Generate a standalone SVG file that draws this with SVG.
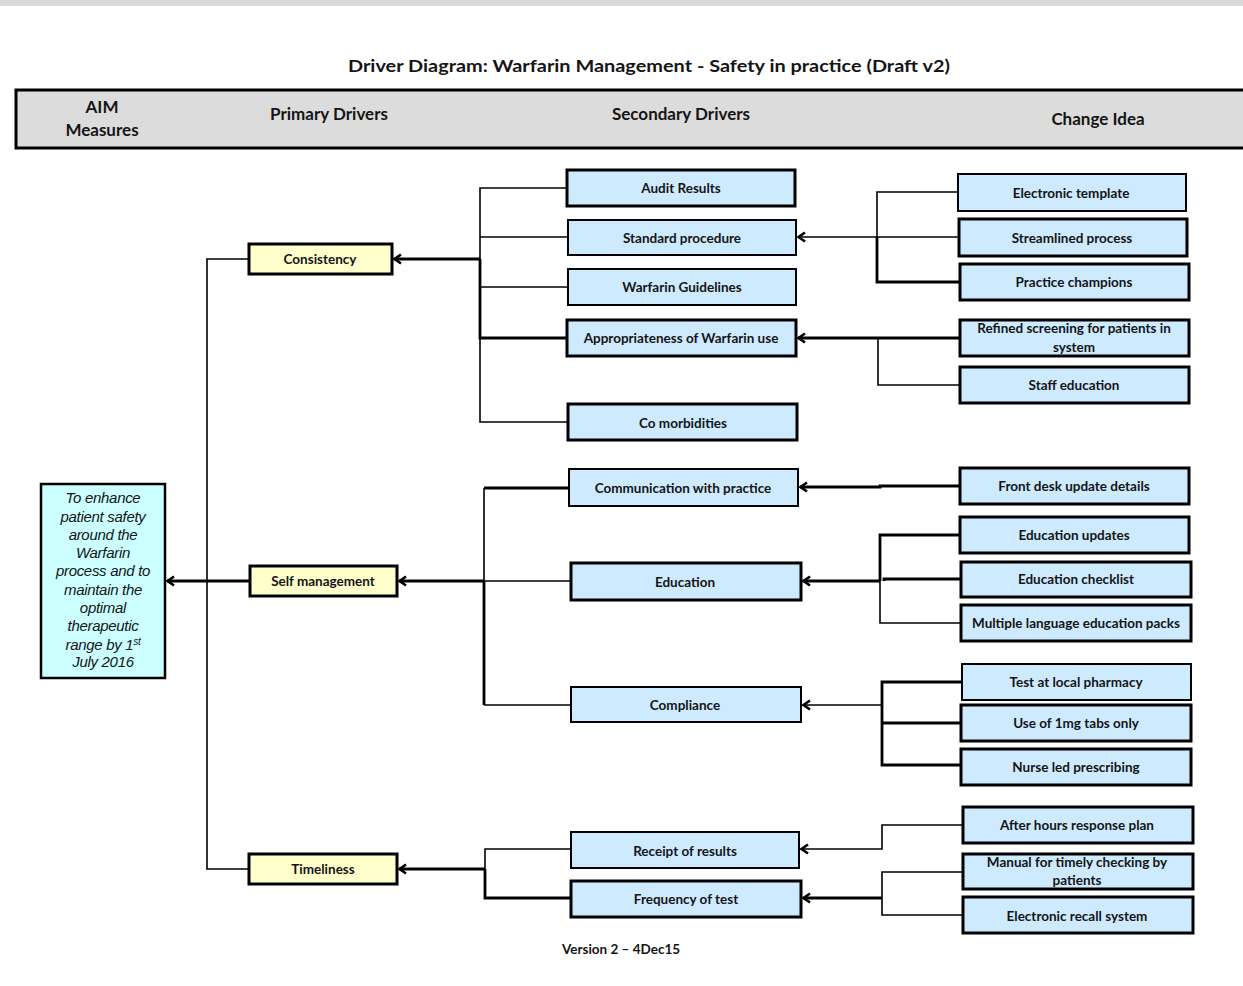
<svg xmlns="http://www.w3.org/2000/svg" width="1243" height="986" viewBox="0 0 1243 986">
<defs>
<marker id="arr" markerUnits="userSpaceOnUse" markerWidth="14" markerHeight="14" viewBox="0 0 14 14" refX="12" refY="7" orient="auto">
<path d="M5,2.5 L11.5,7 L5,11.5" fill="none" stroke="#000" stroke-width="2.6"/>
</marker>
</defs>
<style>
text{font-family:Lato,"Liberation Sans",sans-serif;font-weight:bold;fill:#151515;text-anchor:middle}
.hd{font-size:17px}
.t{font-size:13.5px}
.aim{font-family:"Liberation Sans",Arial,sans-serif;font-style:italic;font-weight:normal;font-size:15px;letter-spacing:-0.3px}
.sd{fill:#cdeaff;stroke:#000;stroke-width:2}
.sdt{fill:#cdeaff;stroke:#000;stroke-width:3}
.pd{fill:#ffffcc;stroke:#000;stroke-width:3}
.c{fill:none;stroke:#000;stroke-width:1.6}
.ck{fill:none;stroke:#000;stroke-width:2.8}
</style>
<rect x="0" y="0" width="1243" height="6" fill="#d9d9d9"/>
<text class="hd" x="649" y="72" font-size="18" textLength="602" lengthAdjust="spacingAndGlyphs">Driver Diagram: Warfarin Management - Safety in practice (Draft v2)</text>
<g id="header">
<rect x="16" y="90" width="1240" height="58" fill="#dcdcdc" stroke="#000" stroke-width="3"/>
<text class="hd" x="102" y="113">AIM</text>
<text class="hd" x="102" y="136">Measures</text>
<text class="hd" x="329" y="120">Primary Drivers</text>
<text class="hd" x="681" y="120">Secondary Drivers</text>
<text class="hd" x="1098" y="125">Change Idea</text>
</g>
<g id="connectors">
<path class="c" d="M249,259 H207 V869 H249"/>
<path class="ck" d="M250,581 H167" marker-end="url(#arr)"/>
<path class="ck" d="M480,259 H394" marker-end="url(#arr)"/>
<path class="c" d="M567,188 H480 V422 H568 M480,237 H568 M480,287 H568"/>
<path class="ck" d="M480,259 V338 H567"/>
<path class="c" d="M877,237 H798" marker-end="url(#arr)"/>
<path class="c" d="M958,192 H877 V237 H958"/>
<path class="ck" d="M877,237 V282 H959"/>
<path class="ck" d="M959,338 H798" marker-end="url(#arr)"/>
<path class="c" d="M878,338 V385 H959"/>
<path class="ck" d="M484,581 H399" marker-end="url(#arr)"/>
<path class="c" d="M484,488 V581 H571"/>
<path class="ck" d="M569,488 H484"/>
<path class="ck" d="M484,581 V705"/>
<path class="c" d="M484,705 H571"/>
<path class="ck" d="M960,486 H880 V487 H800" marker-end="url(#arr)"/>
<path class="ck" d="M880,581 H803" marker-end="url(#arr)"/>
<path class="ck" d="M960,535 H880 V581"/>
<path class="ck" d="M961,579 H884 V581"/>
<path class="c" d="M880,581 V623 H961"/>
<path class="c" d="M882,705 H803" marker-end="url(#arr)"/>
<path class="ck" d="M962,682 H882 V765 H961 M882,723 H961"/>
<path class="ck" d="M485,869 H399" marker-end="url(#arr)"/>
<path class="c" d="M571,849 H485 V869"/>
<path class="ck" d="M485,869 V898 H571"/>
<path class="c" d="M963,825 H882 V849 H801" marker-end="url(#arr)"/>
<path class="ck" d="M882,898 H803" marker-end="url(#arr)"/>
<path class="c" d="M963,872 H882 V915 H963"/>
</g>
<g id="aim">
<rect x="41" y="484" width="124" height="194" fill="#ccffff" stroke="#000" stroke-width="2.5"/>
<text class="aim" x="103" y="503">To enhance</text>
<text class="aim" x="103" y="522">patient safety</text>
<text class="aim" x="103" y="540">around the</text>
<text class="aim" x="103" y="558">Warfarin</text>
<text class="aim" x="103" y="576">process and to</text>
<text class="aim" x="103" y="595">maintain the</text>
<text class="aim" x="103" y="613">optimal</text>
<text class="aim" x="103" y="631">therapeutic</text>
<text class="aim" x="103" y="650">range by 1<tspan font-size="10" dy="-5">st</tspan></text>
<text class="aim" x="103" y="667">July 2016</text>
</g>
<g id="consistency"><rect class="pd" x="249" y="244" width="143" height="30"/><text class="t" x="320" y="264">Consistency</text></g>
<g id="self-management"><rect class="pd" x="250" y="566" width="147" height="30"/><text class="t" x="323" y="586">Self management</text></g>
<g id="timeliness"><rect class="pd" x="249" y="854" width="148" height="30"/><text class="t" x="323" y="874">Timeliness</text></g>

<g id="audit-results"><rect class="sdt" x="567" y="170" width="228" height="36"/><text class="t" x="681" y="193">Audit Results</text></g>
<g id="standard-procedure"><rect class="sd" x="568" y="220" width="228" height="35"/><text class="t" x="682" y="243">Standard procedure</text></g>
<g id="warfarin-guidelines"><rect class="sd" x="568" y="269" width="228" height="36"/><text class="t" x="682" y="292">Warfarin Guidelines</text></g>
<g id="appropriateness"><rect class="sdt" x="567" y="320" width="229" height="36"/><text class="t" x="681" y="343">Appropriateness of Warfarin use</text></g>
<g id="co-morbidities"><rect class="sdt" x="568" y="404" width="229" height="36"/><text class="t" x="683" y="428">Co morbidities</text></g>
<g id="communication"><rect class="sd" x="569" y="469" width="229" height="37"/><text class="t" x="683" y="493">Communication  with practice</text></g>
<g id="education"><rect class="sdt" x="571" y="563" width="230" height="37"/><text class="t" x="685" y="587">Education</text></g>
<g id="compliance"><rect class="sd" x="571" y="687" width="230" height="35"/><text class="t" x="685" y="710">Compliance</text></g>
<g id="receipt-of-results"><rect class="sd" x="571" y="832" width="228" height="36"/><text class="t" x="685" y="856">Receipt of results</text></g>
<g id="frequency-of-test"><rect class="sdt" x="571" y="881" width="230" height="36"/><text class="t" x="686" y="904">Frequency of test</text></g>

<g id="electronic-template"><rect class="sd" x="958" y="174" width="228" height="37"/><text class="t" x="1071" y="198">Electronic template</text></g>
<g id="streamlined-process"><rect class="sdt" x="959" y="219" width="228" height="37"/><text class="t" x="1072" y="243">Streamlined process</text></g>
<g id="practice-champions"><rect class="sdt" x="960" y="264" width="229" height="36"/><text class="t" x="1074" y="287">Practice champions</text></g>
<g id="refined-screening"><rect class="sdt" x="960" y="320" width="229" height="36"/><text class="t" x="1074" y="333">Refined screening for patients in</text><text class="t" x="1074" y="352">system</text></g>
<g id="staff-education"><rect class="sdt" x="960" y="367" width="229" height="36"/><text class="t" x="1074" y="390">Staff education</text></g>
<g id="front-desk"><rect class="sdt" x="960" y="468" width="229" height="36"/><text class="t" x="1074" y="491">Front desk update details</text></g>
<g id="education-updates"><rect class="sdt" x="960" y="517" width="229" height="36"/><text class="t" x="1074" y="540">Education updates</text></g>
<g id="education-checklist"><rect class="sdt" x="961" y="562" width="230" height="35"/><text class="t" x="1076" y="584">Education checklist</text></g>
<g id="multiple-language"><rect class="sdt" x="961" y="605" width="230" height="36"/><text class="t" x="1076" y="628">Multiple language education packs</text></g>
<g id="test-local-pharmacy"><rect class="sd" x="962" y="664" width="229" height="36"/><text class="t" x="1076" y="687">Test at local pharmacy</text></g>
<g id="use-1mg"><rect class="sdt" x="961" y="705" width="230" height="36"/><text class="t" x="1076" y="728">Use of 1mg tabs only</text></g>
<g id="nurse-led"><rect class="sdt" x="961" y="749" width="230" height="36"/><text class="t" x="1076" y="772">Nurse led prescribing</text></g>
<g id="after-hours"><rect class="sdt" x="963" y="807" width="230" height="36"/><text class="t" x="1077" y="830">After hours response plan</text></g>
<g id="manual-timely"><rect class="sdt" x="963" y="854" width="230" height="35"/><text class="t" x="1077" y="867">Manual for timely checking by</text><text class="t" x="1077" y="885">patients</text></g>
<g id="electronic-recall"><rect class="sdt" x="963" y="897" width="230" height="36"/><text class="t" x="1077" y="921">Electronic recall system</text></g>
<text class="t" x="621" y="954">Version 2 – 4Dec15</text>
</svg>
